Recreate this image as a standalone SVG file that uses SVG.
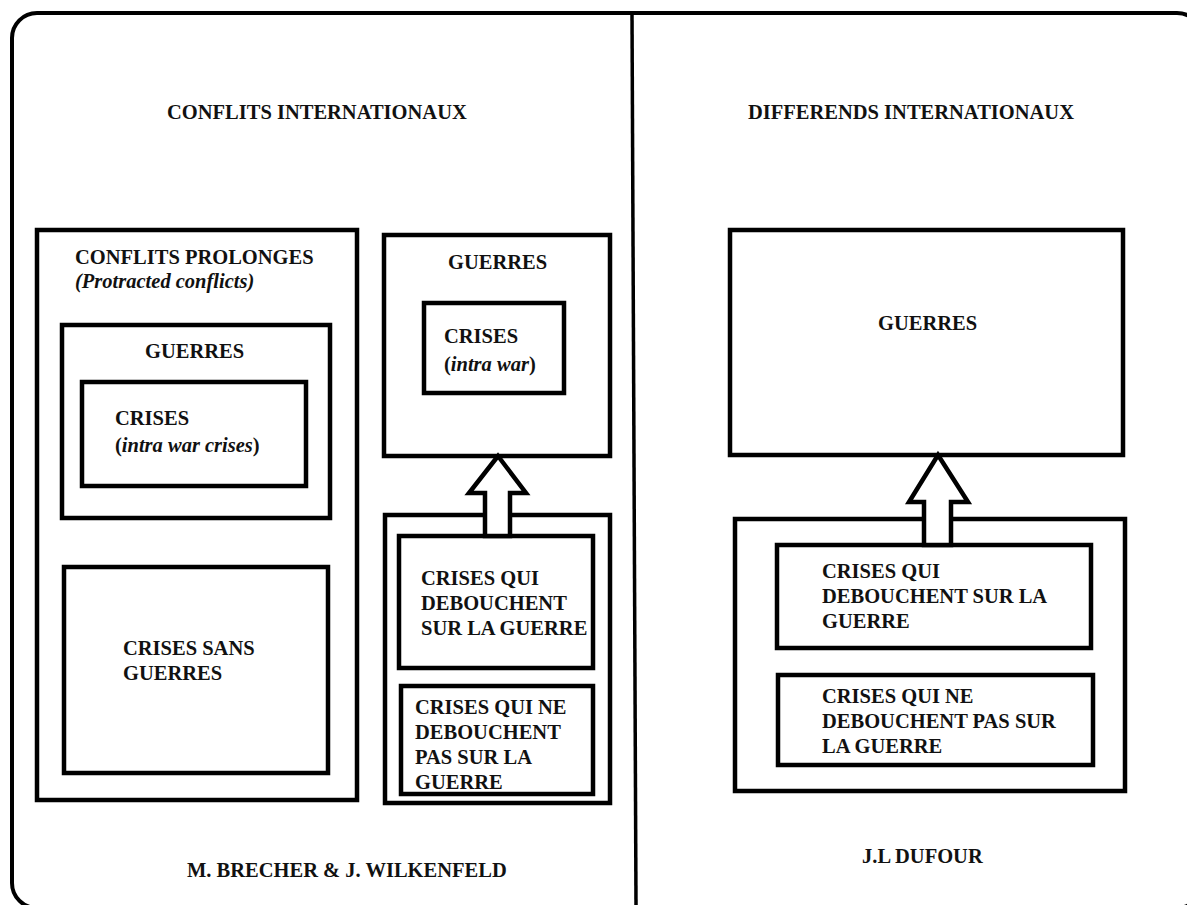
<svg xmlns="http://www.w3.org/2000/svg" width="1187" height="905" viewBox="0 0 1187 905">
<style>
.box{fill:none;stroke:#000;stroke-width:4.5}
.frame{fill:#fff;stroke:#000;stroke-width:4}
.arrow{fill:#fff;stroke:#000;stroke-width:4.5;stroke-linejoin:miter}
text{font-family:"Liberation Serif","Times New Roman",serif;font-weight:bold;font-size:20.5px;fill:#111}
.it{font-style:italic}
</style>
<rect width="1187" height="905" fill="#fff"/>
<g id="frame">
<rect class="frame" x="12" y="13" width="1190" height="895" rx="25"/>
<line x1="632" y1="13" x2="636" y2="905" stroke="#000" stroke-width="3.5"/>
</g>
<g id="titles">
<text x="167" y="119">CONFLITS INTERNATIONAUX</text>
<text x="748" y="119">DIFFERENDS INTERNATIONAUX</text>
<text x="187" y="877">M. BRECHER &amp; J. WILKENFELD</text>
<text x="862" y="863">J.L DUFOUR</text>
</g>
<g id="conflits-prolonges">
<rect class="box" x="37" y="230" width="320" height="570"/>
<text x="75" y="264">CONFLITS PROLONGES</text>
<text x="75" y="288" class="it">(Protracted conflicts)</text>
</g>
<g id="guerres-left">
<rect class="box" x="62" y="325" width="268" height="193"/>
<text x="145" y="358">GUERRES</text>
</g>
<g id="crises-intra-left">
<rect class="box" x="82" y="382" width="224" height="104"/>
<text x="115" y="425">CRISES</text>
<text x="115" y="452">(<tspan class="it">intra war crises</tspan>)</text>
</g>
<g id="crises-sans-guerres">
<rect class="box" x="64" y="567" width="264" height="206"/>
<text x="123" y="655">CRISES SANS</text>
<text x="123" y="680">GUERRES</text>
</g>
<g id="guerres-mid">
<rect class="box" x="384" y="235" width="226" height="221"/>
<text x="448" y="269">GUERRES</text>
</g>
<g id="crises-intra-mid">
<rect class="box" x="424" y="303" width="140" height="90"/>
<text x="444" y="343">CRISES</text>
<text x="444" y="371">(<tspan class="it">intra war</tspan>)</text>
</g>
<g id="crises-group-mid">
<rect class="box" x="385" y="515" width="225" height="288"/>
</g>
<g id="crises-guerre-mid">
<rect class="box" x="399" y="536" width="194" height="132"/>
<text x="421" y="585">CRISES QUI</text>
<text x="421" y="610">DEBOUCHENT</text>
<text x="421" y="635">SUR LA GUERRE</text>
</g>
<g id="crises-sans-mid">
<rect class="box" x="401" y="686" width="192" height="108"/>
<text x="415" y="714">CRISES QUI NE</text>
<text x="415" y="739">DEBOUCHENT</text>
<text x="415" y="764">PAS SUR LA</text>
<text x="415" y="789">GUERRE</text>
</g>
<g id="guerres-right">
<rect class="box" x="730" y="230" width="393" height="225"/>
<text x="878" y="330">GUERRES</text>
</g>
<g id="crises-group-right">
<rect class="box" x="735" y="519" width="390" height="272"/>
</g>
<g id="crises-guerre-right">
<rect class="box" x="777" y="545" width="314" height="103"/>
<text x="822" y="578">CRISES QUI</text>
<text x="822" y="603">DEBOUCHENT SUR LA</text>
<text x="822" y="628">GUERRE</text>
</g>
<g id="crises-sans-right">
<rect class="box" x="778" y="675" width="315" height="90"/>
<text x="822" y="703">CRISES QUI NE</text>
<text x="822" y="728">DEBOUCHENT PAS SUR</text>
<text x="822" y="753">LA GUERRE</text>
</g>
<g id="connectors">
<polygon class="arrow" points="498,456 526,493 510,493 510,536 485,536 485,493 469,493"/>
<polygon class="arrow" points="938,455 968,502 951,502 951,545 924,545 924,502 909,502"/>
</g>
</svg>
